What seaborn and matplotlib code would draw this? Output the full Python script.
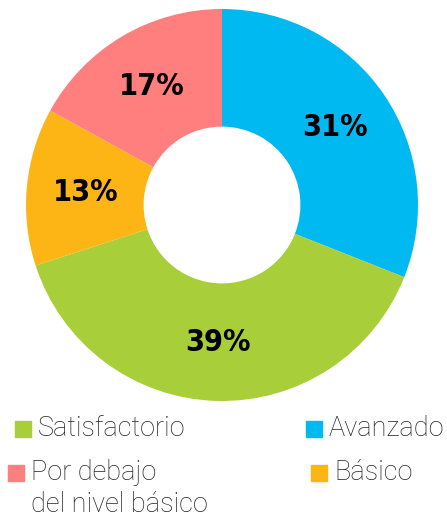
import matplotlib
matplotlib.use("Agg")
import matplotlib.pyplot as plt
import seaborn as sns
from matplotlib.patches import Rectangle

sns.set_style("white")
plt.rcParams['font.family'] = ['Roboto', 'DejaVu Sans']

# data, clockwise from 12 o'clock
levels = ["Avanzado", "Satisfactorio", "Básico", "Por debajo\ndel nivel básico"]
shares = [31, 39, 13, 17]
colors = ["#00B9F1", "#A8CE3A", "#FDB515", "#FF7E7E"]

# legend layout order
legend_order = ["Satisfactorio", "Avanzado", "Por debajo\ndel nivel básico", "Básico"]

fig = plt.figure(figsize=(4.47, 5.19), dpi=100)
ax = fig.add_axes([(222 - 196) / 447, 1 - (205 + 196) / 519, 392 / 447, 392 / 519])

wedges, texts, autotexts = ax.pie(
    shares, colors=colors, startangle=90, counterclock=False,
    radius=1.0, pctdistance=0.70, autopct="%d%%",
    wedgeprops=dict(width=0.6, linewidth=0),
)
for t in autotexts:
    t.set_family(["DejaVu Sans"])
    t.set_fontstretch("condensed")
    t.set_fontweight("bold")
    t.set_fontsize(22)
    t.set_color("black")
ax.set_xlim(-1, 1)
ax.set_ylim(-1, 1)
ax.set_aspect("equal")
ax.axis("off")

# legend, placed by hand (square left x, square top y)
pos = [(15, 421), (306, 421), (8, 465), (311, 465)]
for name, (x, y) in zip(legend_order, pos):
    c = colors[levels.index(name)]
    fig.patches.append(Rectangle((x / 447, 1 - (y + 16) / 519), 16 / 447, 16 / 519,
                                 transform=fig.transFigure, color=c))
    fig.text((x + 23) / 447, 1 - (y - 6) / 519, name, fontsize=19.5, fontweight="light",
             color="#222222", va="top", ha="left", linespacing=1.25)

fig.savefig("out.png", dpi=100)
